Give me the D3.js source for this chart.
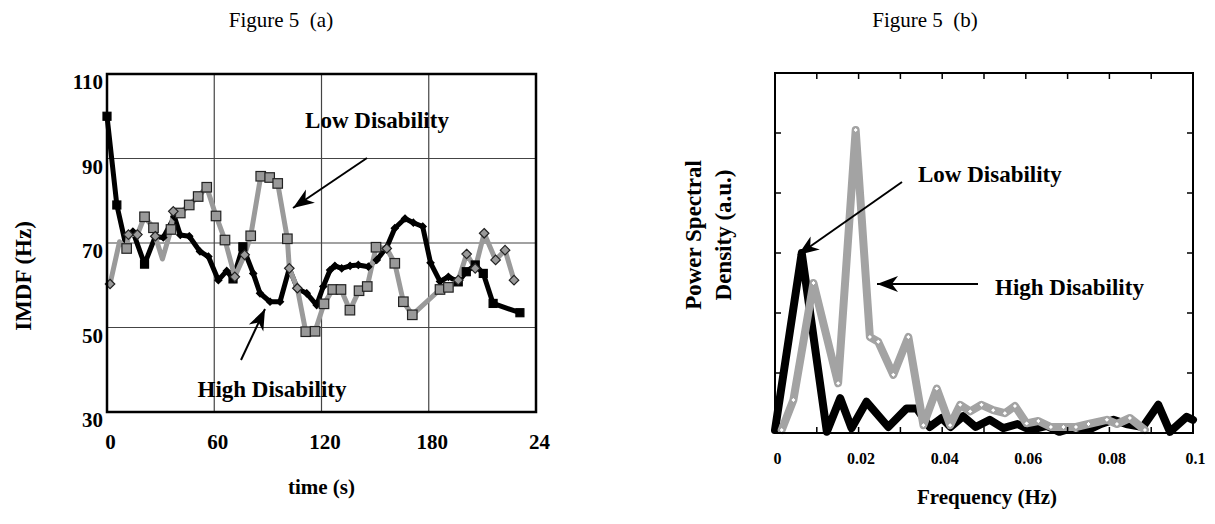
<!DOCTYPE html>
<html><head><meta charset="utf-8">
<script src="https://cdn.jsdelivr.net/npm/d3@7"></script>
<style>
html,body{margin:0;padding:0;background:#fff;}
svg text{font-family:"Liberation Serif","Times New Roman",serif;}
</style></head>
<body><svg id="c" width="1215" height="524"></svg>
<script>
// ---------- Figure 5 (a) data : IMDF over time ----------
const timeTicks = [0, 60, 120, 180, 240];
const timeTickLabels = ["0", "60", "120", "180", "24"];
const mdfTicks = [30, 50, 70, 90, 110];

const highTime = [0, 5.5, 10, 14.5, 21, 27, 31.5, 37.7, 41, 46, 52, 56.7, 62.3, 67, 70.5, 76, 81.8, 85.6, 91.2, 96.8, 102, 106.5, 111.7, 117.3, 121, 124.8, 127.5, 131.3, 136, 140.6, 146.2, 150.9, 156.5, 161, 166.7, 171.4, 176.6, 181, 186.3, 191, 196.5, 201, 206, 210.5, 216, 231];
const highMdf  = [100, 79, 70.5, 72.7, 65, 71.5, 71.3, 76.2, 71.9, 71.6, 68, 66.8, 61.2, 63.4, 61.5, 69.1, 62.8, 58.1, 56.1, 56.1, 64, 59.2, 58.1, 55.3, 59.7, 63.6, 64.6, 64, 64.6, 64.8, 64.4, 66, 69, 73.5, 75.8, 74.8, 73.9, 65.3, 60.9, 62, 60.8, 63.2, 64.8, 62.8, 55.7, 53.5];
const highMark = ["s","s","","d","s","d","d","d","d","d","d","d","d","d","s","s","d","d","d","d","d","d","d","d","d","d","d","d","d","d","d","d","d","d","d","d","d","d","d","d","s","s","s","s","s","s"];

const lowTime = [1.7, 7, 11, 12, 17, 21, 26, 27, 31, 35.8, 37.1, 41, 46, 51, 55.8, 61, 66, 71.5, 77, 80.4, 86, 91, 95.5, 100.9, 102, 106.5, 111.2, 116.4, 121.4, 126.3, 130.9, 135.9, 141, 145.6, 150.5, 156.5, 161, 165.8, 170.8, 186.3, 191, 196.5, 201.2, 206, 211, 217.4, 222.7, 227.7];
const lowMdf  = [60.3, 70.3, 68.7, 72, 72, 76.2, 73.6, 71.6, 66.2, 73.2, 77.5, 77.1, 79, 81, 83.2, 76.4, 70.7, 62, 67.2, 71.7, 85.8, 85.5, 84.1, 71, 64, 59.3, 49, 49.1, 55.6, 59, 59, 54.1, 58.7, 59.7, 69, 68.7, 65.2, 56.1, 53, 59, 59.5, 61.2, 67.4, 64, 72.3, 66, 68.3, 61.2];
const lowMark = ["d","","s","d","d","s","s","d","","s","d","s","s","s","s","s","s","d","d","s","s","s","s","s","d","d","s","s","s","s","s","s","s","s","s","d","s","s","s","s","s","d","d","d","d","d","d","d"];

// ---------- Figure 5 (b) data : power spectral density ----------
const freqTicks = [0, 0.02, 0.04, 0.06, 0.08, 0.1];
const freqTickLabels = ["0", "0.02", "0.04", "0.06", "0.08", "0.1"];
const blackFreq = [0, 0.0064, 0.0124, 0.0156, 0.0183, 0.0219, 0.0271, 0.0315, 0.0339, 0.037, 0.0399, 0.042, 0.045, 0.048, 0.0514, 0.0546, 0.058, 0.061, 0.065, 0.068, 0.072, 0.075, 0.078, 0.081, 0.084, 0.088, 0.0917, 0.0945, 0.0985, 0.1];
const blackPsd  = [0.05, 3.0, 0.02, 0.58, 0.08, 0.52, 0.1, 0.41, 0.41, 0.1, 0.25, 0.1, 0.28, 0.1, 0.22, 0.08, 0.15, 0.05, 0.12, 0.02, 0.1, 0.05, 0.15, 0.22, 0.15, 0.1, 0.47, 0.02, 0.27, 0.22];
const grayFreq = [0.0016, 0.0044, 0.0092, 0.0151, 0.0193, 0.0227, 0.0247, 0.0283, 0.0319, 0.0355, 0.0387, 0.0419, 0.0443, 0.0467, 0.0494, 0.0522, 0.055, 0.0574, 0.0602, 0.063, 0.066, 0.069, 0.072, 0.075, 0.0794, 0.0818, 0.0849, 0.0885];
const grayPsd  = [0.05, 0.55, 2.5, 0.83, 5.05, 1.6, 1.52, 0.97, 1.6, 0.13, 0.74, 0.13, 0.47, 0.36, 0.47, 0.38, 0.33, 0.45, 0.16, 0.2, 0.1, 0.1, 0.1, 0.15, 0.22, 0.15, 0.25, 0.05];

const svg = d3.select("#c");
const FONT = "'Liberation Serif','Times New Roman',serif";

const defs = svg.append("defs");
defs.append("marker").attr("id","ah").attr("viewBox","-22 -10 24 20")
  .attr("refX",0).attr("refY",0).attr("markerWidth",24).attr("markerHeight",20)
  .attr("markerUnits","userSpaceOnUse").attr("orient","auto")
  .append("path").attr("d","M0,0 L-21,-8 L-15,0 L-21,8 Z").attr("fill","#000");
defs.append("clipPath").attr("id","leftclip").append("rect").attr("x",14).attr("y",0).attr("width",100).attr("height",524);

function arrow(g, x1, y1, x2, y2){
  g.append("line").attr("x1",x1).attr("y1",y1).attr("x2",x2).attr("y2",y2)
   .attr("stroke","#000").attr("stroke-width",2).attr("marker-end","url(#ah)");
}

// ================= Panel (a) =================
const xL = d3.scaleLinear().domain([0, 240]).range([107, 536]);
const yL = d3.scaleLinear().domain([30, 110]).range([412, 74]);
const gA = svg.append("g");

gA.append("text").attr("x",281).attr("y",27).attr("text-anchor","middle")
  .attr("font-size",21).style("white-space","pre").text("Figure 5  (a)");

gA.append("g").selectAll("line").data([60,120,180]).join("line")
  .attr("x1",d=>xL(d)).attr("x2",d=>xL(d)).attr("y1",yL(110)).attr("y2",yL(30))
  .attr("stroke","#444").attr("stroke-width",1.2);
gA.append("g").selectAll("line").data([50,70,90]).join("line")
  .attr("y1",d=>yL(d)).attr("y2",d=>yL(d)).attr("x1",xL(0)).attr("x2",xL(240))
  .attr("stroke","#444").attr("stroke-width",1.2);

const axY = d3.axisLeft(yL).tickValues(mdfTicks).tickSize(0).tickPadding(4).tickFormat(d3.format("d"));
const gy = gA.append("g").attr("transform",`translate(${xL(0)},8)`).call(axY);
gy.select(".domain").remove();
gy.selectAll("text").attr("font-family",FONT).attr("font-weight","bold").attr("font-size",21).attr("fill","#000");

const axX = d3.axisBottom(xL).tickValues(timeTicks).tickSize(0).tickPadding(0).tickFormat((d,i)=>timeTickLabels[i]);
const gx = gA.append("g").attr("transform",`translate(3,${yL(30)+22})`).call(axX);
gx.select(".domain").remove();
gx.selectAll("text").attr("font-family",FONT).attr("font-weight","bold").attr("font-size",21).attr("fill","#000");

gA.append("text").attr("x",xL(120)).attr("y",494).attr("text-anchor","middle")
  .attr("font-weight","bold").attr("font-size",21).text("time (s)");
gA.append("g").attr("clip-path","url(#leftclip)")
  .append("text").attr("transform",`translate(31,${276}) rotate(-90)`).attr("text-anchor","middle")
  .attr("font-weight","bold").attr("font-size",23).text("IMDF (Hz)");

const lineL = d3.line().x(d=>xL(d[0])).y(d=>yL(d[1]));
const highPts = highTime.map((t,i)=>[t, highMdf[i], highMark[i]]);
const lowPts = lowTime.map((t,i)=>[t, lowMdf[i], lowMark[i]]);

gA.append("path").datum(highPts).attr("d",lineL).attr("fill","none")
  .attr("stroke","#000").attr("stroke-width",5).attr("stroke-linejoin","round");
gA.append("path").datum(lowPts).attr("d",lineL).attr("fill","none")
  .attr("stroke","#9a9a9a").attr("stroke-width",5).attr("stroke-linejoin","round");

function markers(g, pts, fill, stroke, sq, dm){
  g.append("g").selectAll("rect").data(pts.filter(p=>p[2]==="s")).join("rect")
    .attr("x",d=>xL(d[0])-sq/2).attr("y",d=>yL(d[1])-sq/2).attr("width",sq).attr("height",sq)
    .attr("fill",fill).attr("stroke",stroke).attr("stroke-width",1.2);
  g.append("g").selectAll("path").data(pts.filter(p=>p[2]==="d")).join("path")
    .attr("d",d=>{const x=xL(d[0]),y=yL(d[1]),r=dm/2;return `M${x},${y-r}L${x+r},${y}L${x},${y+r}L${x-r},${y}Z`;})
    .attr("fill",fill).attr("stroke",stroke).attr("stroke-width",1.2);
}
markers(gA, highPts, "#000", "#000", 8, 7);
markers(gA, lowPts, "#999", "#222", 9.5, 9.5);

gA.append("rect").attr("x",xL(0)).attr("y",yL(110)).attr("width",xL(240)-xL(0)).attr("height",yL(30)-yL(110))
  .attr("fill","none").attr("stroke","#000").attr("stroke-width",2.5);

gA.append("text").attr("x",377).attr("y",128).attr("text-anchor","middle")
  .attr("font-weight","bold").attr("font-size",23).text("Low Disability");
arrow(gA, 367, 158, 293, 208);
gA.append("text").attr("x",272).attr("y",397).attr("text-anchor","middle")
  .attr("font-weight","bold").attr("font-size",23).text("High Disability");
arrow(gA, 241, 360, 265, 309);

// ================= Panel (b) =================
const xR = d3.scaleLinear().domain([0, 0.1]).range([775, 1193]);
const yR = d3.scaleLinear().domain([0, 6]).range([433, 73]);
const gB = svg.append("g");

gB.append("text").attr("x",925).attr("y",27).attr("text-anchor","middle")
  .attr("font-size",21).style("white-space","pre").text("Figure 5  (b)");

const lineR = d3.line().x(d=>xR(d[0])).y(d=>yR(d[1]));
const blackPts = blackFreq.map((f,i)=>[f, blackPsd[i]]);
const grayPts = grayFreq.map((f,i)=>[f, grayPsd[i]]);
gB.append("path").datum(blackPts).attr("d",lineR).attr("fill","none")
  .attr("stroke","#000").attr("stroke-width",8).attr("stroke-linejoin","round").attr("stroke-linecap","round");
gB.append("path").datum(grayPts).attr("d",lineR).attr("fill","none")
  .attr("stroke","#a3a3a3").attr("stroke-width",8).attr("stroke-linejoin","round").attr("stroke-linecap","round");
gB.append("g").selectAll("path").data(grayPts).join("path")
  .attr("d",d=>{const x=xR(d[0]),y=yR(d[1]),r=2.5;return `M${x},${y-r}L${x+r},${y}L${x},${y+r}L${x-r},${y}Z`;})
  .attr("fill","#fff").attr("stroke","#888").attr("stroke-width",0.6);

gB.append("rect").attr("x",xR(0)).attr("y",yR(6)).attr("width",xR(0.1)-xR(0)).attr("height",yR(0)-yR(6))
  .attr("fill","none").attr("stroke","#000").attr("stroke-width",2);
const minorX = d3.range(1,10).map(i=>i/100);
const gt = gB.append("g").attr("stroke","#000").attr("stroke-width",1.5);
gt.selectAll(".tt").data(minorX).join("line").attr("x1",d=>xR(d)).attr("x2",d=>xR(d)).attr("y1",yR(6)).attr("y2",yR(6)+6);
gt.selectAll(".tb").data(minorX).join("line").attr("x1",d=>xR(d)).attr("x2",d=>xR(d)).attr("y1",yR(0)).attr("y2",yR(0)-6);
gt.selectAll(".tl").data([1,2,3,4,5]).join("line").attr("x1",xR(0)).attr("x2",xR(0)+6).attr("y1",d=>yR(d)).attr("y2",d=>yR(d));
gt.selectAll(".tr").data([1,2,3,4,5]).join("line").attr("x1",xR(0.1)).attr("x2",xR(0.1)-6).attr("y1",d=>yR(d)).attr("y2",d=>yR(d));

const axXR = d3.axisBottom(xR).tickValues(freqTicks).tickSize(0).tickPadding(0).tickFormat((d,i)=>freqTickLabels[i]);
const gxr = gB.append("g").attr("transform",`translate(2,${yR(0)+20})`).call(axXR);
gxr.select(".domain").remove();
gxr.selectAll("text").attr("font-family",FONT).attr("font-weight","bold").attr("font-size",16).attr("fill","#000");

gB.append("text").attr("x",987).attr("y",504).attr("text-anchor","middle")
  .attr("font-weight","bold").attr("font-size",21).text("Frequency (Hz)");
gB.append("text").attr("transform",`translate(701,235) rotate(-90)`).attr("text-anchor","middle")
  .attr("font-weight","bold").attr("font-size",23).text("Power Spectral");
gB.append("text").attr("transform",`translate(731,235) rotate(-90)`).attr("text-anchor","middle")
  .attr("font-weight","bold").attr("font-size",23).text("Density (a.u.)");

gB.append("text").attr("x",918).attr("y",182).attr("font-weight","bold").attr("font-size",23).text("Low Disability");
arrow(gB, 902, 182, 798, 255);
gB.append("text").attr("x",995).attr("y",295).attr("font-weight","bold").attr("font-size",23).text("High Disability");
arrow(gB, 978, 284, 877, 284);
</script></body></html>
